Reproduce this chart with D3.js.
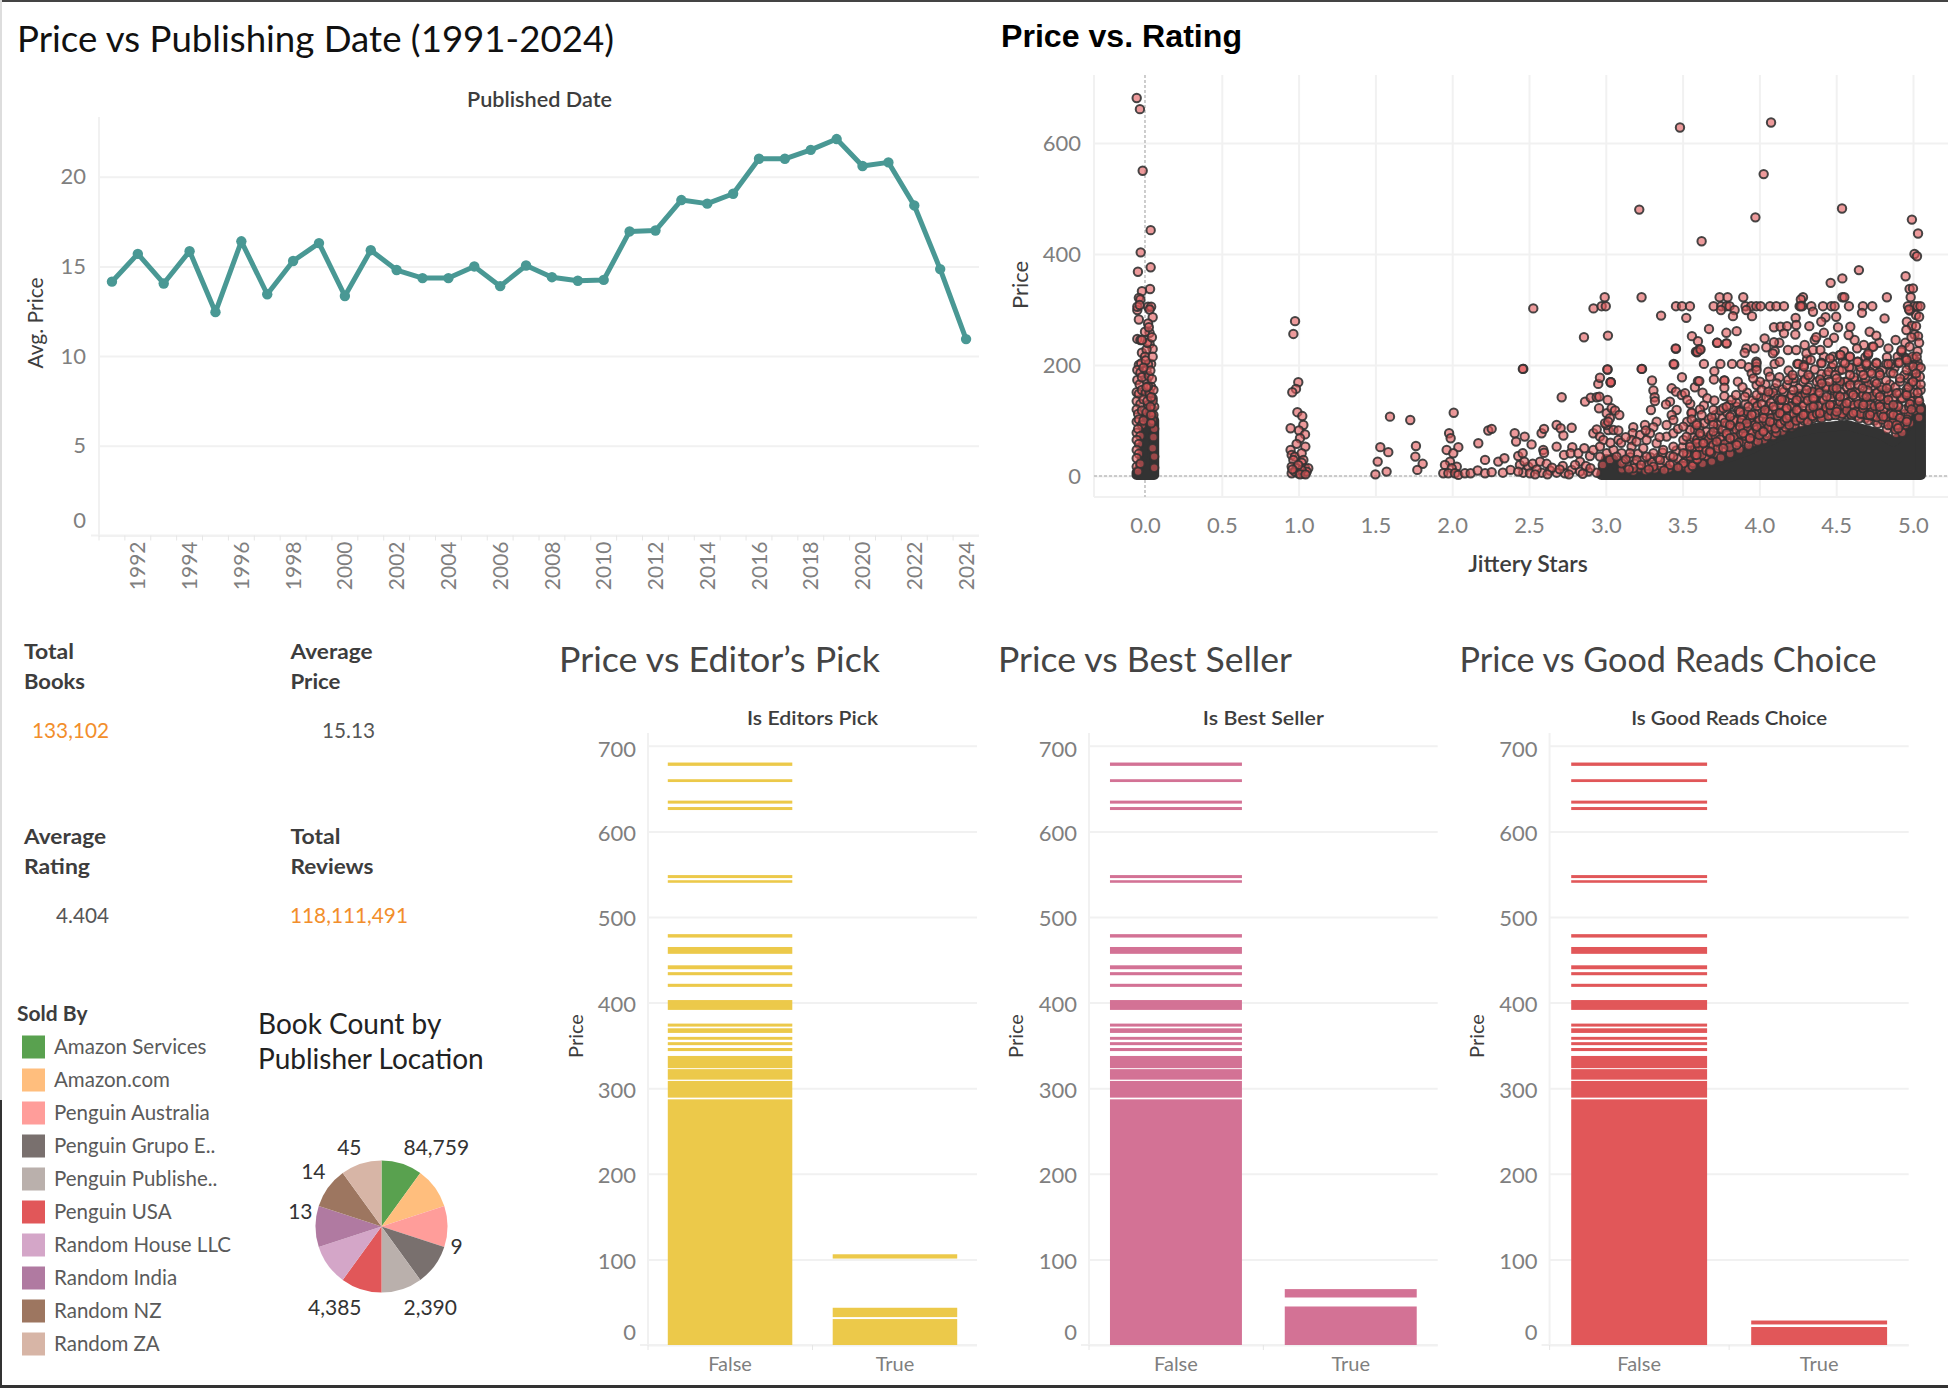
<!DOCTYPE html>
<html>
<head>
<meta charset="utf-8">
<title>Book prices dashboard</title>
<script src="https://d3js.org/d3.v7.min.js"></script>
<style>
  html, body { margin: 0; padding: 0; background: #fff; }
  svg { display: block; }
  text { font-family: Lato, "Open Sans", sans-serif; }
  .domain { display: none; }
</style>
</head>
<body>
<script>
// ---- data ----
var years = [1991, 1992, 1993, 1994, 1995, 1996, 1997, 1998, 1999, 2000, 2001, 2002, 2003, 2004, 2005, 2006, 2007,
  2008, 2009, 2010, 2011, 2012, 2013, 2014, 2015, 2016, 2017, 2018, 2019, 2020, 2021, 2022, 2023, 2024];
var avgPrice = [14.15, 15.7, 14.05, 15.85, 12.45, 16.4, 13.45, 15.3, 16.3, 13.35, 15.9, 14.8, 14.35, 14.35, 15.0, 13.9, 15.05,
  14.4, 14.2, 14.25, 16.95, 17.0, 18.7, 18.5, 19.05, 21.0, 21.0, 21.5, 22.1, 20.6, 20.8, 18.4, 14.85, 10.95];
var yearTicks = [1992, 1994, 1996, 1998, 2000, 2002, 2004, 2006, 2008, 2010, 2012, 2014, 2016, 2018, 2020, 2022, 2024];
var avgPriceTicks = [0, 5, 10, 15, 20];

var starTicks = [0, 0.5, 1, 1.5, 2, 2.5, 3, 3.5, 4, 4.5, 5];
var scatterPriceTicks = [0, 200, 400, 600];

// [stars, price] readings, the column of unrated books
var zeroStarBooks = [[-0.054, 681], [-0.033, 661], [-0.015, 550], [0.037, 443], [-0.028, 403], [0.037, 376], [-0.046, 368],
  [0.033, 337], [-0.02, 333], [-0.04, 321], [-0.03, 318], [-0.05, 299], [-0.05, 305], [-0.035, 308], [0.02, 305], [0.04, 305], [0.03, 300],
  [0.05, 286], [-0.04, 282], [0.02, 275], [0.03, 258], [0, 260], [-0.05, 247], [-0.03, 245], [0.03, 238], [0.05, 229], [-0.02, 222],
  [0.01, 228], [0, 215], [0.04, 202], [0.02, 201], [-0.04, 200], [-0.025, 203], [-0.05, 191], [-0.03, 186], [0.01, 190], [-0.05, 173], [-0.035, 165],
  [0.04, 161], [0.01, 172], [-0.02, 178], [0.025, 180], [-0.054, 151], [-0.04, 148], [-0.02, 155], [0.005, 150], [0.03, 145], [0.05, 140],
  [-0.054, 135], [-0.03, 130], [-0.01, 138], [0.02, 128], [0.045, 122], [-0.054, 120], [-0.045, 112], [-0.02, 118], [0.01, 115], [-0.054, 98],
  [-0.04, 102], [-0.02, 92], [-0.054, 78], [-0.045, 85], [-0.03, 72], [-0.054, 65], [-0.04, 58], [-0.054, 47], [-0.04, 40], [-0.054, 32],
  [-0.054, 17], [-0.03, 22], [-0.045, 8], [0.055, 110], [0.06, 125], [0.05, 135], [0.03, 150], [0.055, 155], [0.02, 162], [0.045, 175],
  [0.035, 190], [0.005, 208], [0.05, 215], [-0.01, 195], [0.015, 240], [0.045, 250], [-0.02, 245], [0.025, 268], [0.05, 100], [0.06, 85],
  [-0.01, 100], [0.04, 95], [0.055, 70], [0.05, 50], [0.06, 35], [0.06, 15], [0.015, 135], [0.04, 110], [0.035, 125], [0.01, 160], [0.04, 142]];
var oneStarBooks = [[0.977, 279], [0.966, 256], [0.998, 169], [0.983, 157], [0.959, 151], [0.992, 115], [1.024, 108], [1.031, 92],
  [0.948, 86], [1.003, 82], [1.042, 75], [1.009, 68], [0.987, 58], [1.044, 53], [0.948, 47], [0.955, 38], [0.976, 35], [1.02, 41],
  [1.031, 29], [0.966, 29], [1.02, 24], [0.955, 17], [0.987, 14], [1.042, 14], [1.063, 14], [0.955, 5], [0.998, 5], [1.031, 4],
  [1.053, 8], [0.976, 8], [1.02, 11], [0.998, 20], [0.96, 12], [1.01, 3], [1.045, 3]];
var lowStarBooks = [[1.595, 107], [1.727, 101], [1.532, 52], [1.584, 43], [1.764, 54], [1.76, 35], [1.515, 26], [1.573, 8], [1.5, 3],
  [1.808, 22], [1.773, 11], [2.01, 114], [1.98, 77], [1.99, 68], [2.04, 52], [1.964, 47], [2.007, 41], [1.986, 26], [1.953, 20],
  [2.03, 17], [1.997, 14], [1.942, 5], [1.975, 5], [2.018, 5], [2.04, 2], [2.083, 5], [2.12, 5], [2.17, 59], [2.235, 82], [2.257, 85],
  [2.214, 29], [2.166, 10], [2.214, 5], [2.257, 7], [2.33, 6], [2.3, 26], [2.34, 32], [2.38, 11], [2.407, 77], [2.416, 62], [2.472, 71],
  [2.517, 57], [2.463, 193], [2.43, 36], [2.459, 41], [2.441, 20], [2.463, 6], [2.496, 17], [2.524, 22], [2.506, 5], [2.572, 26],
  [2.615, 22], [2.582, 6], [2.637, 10], [2.582, 77], [2.598, 85], [2.593, 47], [2.598, 42], [2.68, 92], [2.706, 86], [2.724, 73],
  [2.778, 87], [2.68, 53], [2.782, 52], [2.728, 38], [2.771, 41], [2.821, 41], [2.86, 50], [2.713, 142], [2.68, 6], [2.734, 5],
  [2.778, 11], [2.832, 8], [2.832, 26], [2.897, 36], [2.919, 47], [2.919, 77], [2.941, 84], [2.886, 8], [2.941, 6],
  [2.43, 8], [2.55, 12], [2.65, 15], [2.72, 18], [2.8, 20], [2.87, 18], [2.47, 26], [2.54, 3], [2.62, 3], [2.7, 12], [2.76, 3], [2.85, 4], [2.9, 14]];
// around 3 stars up to the start of the packed mass
var midStarBooks = [[2.962, 71], [2.984, 65], [3.016, 83], [3.006, 92], [2.995, 95], [3.05, 83], [3.082, 82], [2.962, 53], [3.006, 41],
  [3.027, 29], [2.962, 35], [3.05, 47], [3.006, 113], [3.038, 122], [3.06, 118], [3.088, 110], [3.027, 104], [3.016, 98], [2.956, 122],
  [3.012, 137], [2.865, 134], [2.902, 141], [2.941, 142], [2.958, 143], [2.951, 166], [2.962, 177], [3.012, 192], [3.032, 169], [3.032, 169],
  [3.032, 169], [3.082, 65], [3.236, 193], [3.301, 172], [3.31, 154], [3.318, 142], [3.32, 135], [3.294, 119], [3.457, 229], [3.446, 201],
  [3.496, 178], [3.587, 224], [3.6, 171], [3.429, 158], [3.457, 152], [3.494, 146], [3.516, 149], [3.531, 137], [3.418, 134], [3.392, 129],
  [3.461, 119], [3.429, 110], [3.44, 101], [3.559, 113], [3.331, 98], [3.396, 92], [3.31, 88], [3.255, 92], [3.179, 88], [3.175, 77],
  [3.223, 74], [3.288, 77], [3.168, 65], [3.266, 65], [3.331, 59], [3.396, 71], [3.44, 77], [3.168, 53], [3.103, 41], [3.158, 41], [3.244, 50],
  [3.31, 41], [3.374, 47], [3.44, 53], [3.505, 65], [3.549, 83], [3.592, 95], [3.103, 23], [3.201, 29], [3.266, 35], [3.353, 29], [3.44, 35],
  [3.527, 41], [3.592, 59], [3.179, 14], [3.31, 17], [3.418, 20], [3.505, 23], [3.581, 38], [3.1, 60], [3.13, 30], [3.23, 20], [3.28, 12],
  [3.38, 10], [3.47, 15], [3.15, 12], [3.2, 62], [3.35, 70], [3.47, 85], [3.53, 98], [3.26, 82], [3.13, 70], [3.03, 60], [3.07, 35], [2.98, 20]];
var highStarBooks = [[3.483, 628], [4.076, 637], [4.028, 544], [3.218, 480], [3.974, 466], [4.538, 482], [3.624, 423], [4.993, 462],
  [5.033, 437], [5.01, 400], [5.026, 396], [4.648, 371], [4.952, 360], [4.464, 348], [4.54, 356], [4.978, 337], [5.0, 338],
  [2.993, 322], [3.233, 322], [3.741, 322], [3.793, 322], [3.895, 322], [4.284, 322], [4.27, 318], [4.54, 322], [4.553, 322], [4.83, 322], [4.985, 322],
  [2.528, 302], [2.92, 302], [2.973, 306], [3.0, 306], [3.457, 306], [3.496, 306], [3.548, 306], [3.702, 306], [3.752, 306], [3.785, 306], [3.806, 306],
  [3.91, 306], [3.947, 306], [3.98, 306], [4.008, 306], [4.069, 306], [4.11, 306], [4.16, 306], [4.262, 306], [4.28, 306], [4.27, 306], [4.338, 306],
  [4.414, 306], [4.468, 306], [4.49, 306], [4.583, 306], [4.674, 306], [4.735, 306], [4.967, 306], [5.01, 306], [5.03, 306], [5.048, 306],
  [3.36, 289], [3.524, 285], [3.75, 299], [3.839, 299], [3.828, 288], [3.952, 288], [3.915, 299], [4.236, 285], [4.349, 296], [4.431, 286], [4.403, 278],
  [4.5, 287], [4.668, 294], [4.815, 284], [4.974, 300], [5.04, 287], [3.672, 265], [4.095, 268], [4.138, 269], [4.18, 270], [4.24, 272], [4.325, 270],
  [4.512, 268], [4.592, 269], [4.993, 271], [4.957, 263], [2.858, 250], [3.014, 253], [3.561, 252], [3.6, 243], [3.785, 258], [3.852, 261], [3.724, 240],
  [3.785, 239], [4.034, 248], [4.095, 241], [4.16, 257], [4.234, 255], [4.37, 250], [4.486, 249], [4.581, 254], [4.718, 260], [4.761, 253], [4.887, 245],
  [5.033, 252], [3.611, 228], [3.611, 228], [3.594, 223], [3.455, 230], [3.915, 230], [3.904, 222], [3.969, 230], [4.045, 232], [4.088, 221], [4.186, 227],
  [4.24, 227], [4.295, 236], [4.306, 221], [4.349, 227], [4.397, 227], [4.447, 240], [4.479, 215], [4.523, 218], [4.588, 215], [4.636, 230], [4.735, 233],
  [4.707, 218], [4.924, 224], [4.978, 233], [2.46, 193], [3.01, 192], [3.233, 193], [3.442, 202], [3.639, 202], [3.746, 202], [3.822, 202], [3.882, 202],
  [3.98, 206], [3.98, 197], [4.099, 202], [4.132, 206], [4.247, 202], [4.288, 200], [4.403, 204], [4.479, 202], [4.544, 206], [4.642, 206], [4.696, 200],
  [4.761, 204], [4.826, 202], [4.859, 202], [4.902, 204], [4.957, 212], [4.996, 215], [5.03, 225], [5.04, 240], [4.99, 250], [5.02, 270],
  [3.596, 224], [3.617, 228], [3.726, 240], [3.787, 239], [3.707, 189], [3.704, 174], [3.609, 171], [3.772, 172], [3.772, 172], [3.772, 159], [3.772, 144],
  [3.707, 136], [3.639, 127], [3.613, 120], [3.559, 114], [3.559, 102], [3.624, 110], [3.689, 106], [3.7, 119], [3.765, 122], [3.787, 125], [3.819, 137],
  [3.848, 146], [3.906, 143], [3.809, 107], [3.874, 116], [3.928, 125], [3.982, 146], [3.982, 164], [4.004, 170], [3.95, 185], [3.982, 203], [3.982, 191],
  [3.96, 176], [4.015, 155], [4.058, 152], [4.112, 167], [4.058, 188], [4.069, 179], [4.188, 173], [4.216, 182], [4.221, 155], [4.297, 174], [4.253, 202],
  [4.29, 197], [4.334, 209], [4.405, 203], [4.46, 212], [4.529, 218], [4.557, 203], [4.59, 215], [4.638, 206], [4.698, 203], [4.763, 203], [4.839, 202],
  [4.911, 204], [4.709, 221], [4.742, 233], [4.926, 227], [4.319, 182], [4.394, 174], [4.455, 170], [4.503, 176], [4.59, 182], [4.677, 182], [4.731, 185],
  [4.785, 182], [4.872, 185], [4.915, 176], [4.959, 191], [5.002, 197], [5.045, 179], [4.959, 209], [5.024, 215], [4.308, 155], [4.405, 167], [4.503, 158],
  [4.59, 164], [4.672, 158], [4.763, 167], [4.829, 158], [4.894, 149], [4.959, 146], [4.904, 125], [4.872, 110], [4.915, 104], [4.134, 137], [4.145, 138],
  [4.091, 125], [4.036, 119], [4.177, 122], [4.243, 137], [4.351, 140], [4.438, 143], [4.525, 143], [4.611, 146], [4.698, 143], [4.785, 143], [4.839, 137],
  [4.026, 104], [3.95, 110], [3.885, 101], [4.134, 113], [4.243, 119], [4.351, 125], [4.46, 128], [4.568, 131], [4.677, 128], [4.785, 125], [4.872, 128],
  [3.917, 95], [3.809, 92], [3.7, 92], [3.591, 92], [3.505, 89], [3.526, 71], [3.613, 77], [3.7, 80], [3.787, 77], [3.874, 89], [3.548, 53], [3.635, 59],
  [3.722, 62], [3.809, 68], [3.895, 77], [3.982, 89], [4.069, 98], [4.177, 104], [4.286, 110], [4.394, 113], [4.503, 116], [4.611, 113], [4.72, 110],
  [4.807, 107], [3.505, 41], [3.591, 38], [3.678, 44], [3.765, 50], [3.852, 56], [3.939, 68], [4.026, 80], [4.839, 92], [4.894, 92], [4.904, 86], [4.959, 98],
  [4.97, 160], [5.0, 170], [5.03, 150], [5.05, 195], [5.02, 185], [4.98, 130], [5.04, 135], [4.99, 120]];
// the crowded rim above the packed mass, read as closely as the overlap allows
var crowdedBooks = [[3.105, 12], [3.12, 26], [3.14, 18], [3.16, 34], [3.18, 8], [3.19, 22], [3.21, 40], [3.22, 14], [3.24, 28], [3.26, 9], [3.27, 19], [3.29, 34],
  [3.3, 25], [3.32, 12], [3.34, 33], [3.36, 18], [3.37, 42], [3.39, 27], [3.41, 13], [3.42, 36], [3.44, 24], [3.46, 46], [3.47, 31], [3.49, 19], [3.5, 52],
  [3.52, 29], [3.53, 36], [3.55, 22], [3.56, 47], [3.58, 28], [3.6, 66], [3.61, 43], [3.63, 51], [3.64, 35], [3.66, 69], [3.67, 58], [3.69, 40], [3.7, 66],
  [3.72, 48], [3.73, 85], [3.75, 57], [3.76, 71], [3.78, 44], [3.79, 94], [3.81, 60], [3.82, 80], [3.84, 66], [3.85, 101], [3.87, 74], [3.88, 55], [3.9, 90],
  [3.91, 68], [3.93, 108], [3.94, 80], [3.96, 60], [3.97, 99], [3.99, 73], [4.0, 118], [4.02, 85], [4.03, 65], [4.05, 106], [4.06, 126], [4.08, 90], [4.09, 72],
  [4.11, 112], [4.12, 94], [4.14, 130], [4.15, 80], [4.17, 118], [4.18, 98], [4.2, 140], [4.21, 88], [4.23, 126], [4.24, 105], [4.26, 148], [4.27, 95], [4.29, 132],
  [4.3, 112], [4.32, 160], [4.33, 102], [4.35, 135], [4.36, 118], [4.38, 152], [4.39, 105], [4.41, 140], [4.42, 120], [4.44, 162], [4.45, 110], [4.47, 148],
  [4.48, 125], [4.5, 168], [4.51, 112], [4.53, 152], [4.54, 128], [4.56, 170], [4.57, 110], [4.59, 148], [4.6, 125], [4.62, 172], [4.63, 108], [4.65, 150],
  [4.66, 128], [4.68, 168], [4.69, 104], [4.71, 142], [4.72, 122], [4.74, 162], [4.75, 100], [4.77, 136], [4.78, 115], [4.8, 155], [4.81, 96], [4.83, 130],
  [4.84, 110], [4.86, 150], [4.87, 90], [4.89, 118], [4.9, 100], [4.92, 140], [4.93, 85], [4.95, 112], [4.96, 156], [4.98, 95], [4.99, 142], [5.01, 118],
  [5.02, 165], [5.04, 105], [5.05, 155], [5.0, 190], [5.03, 205],
  [3.51, 18], [3.54, 12], [3.57, 24], [3.6, 30], [3.63, 22], [3.66, 36], [3.69, 26], [3.72, 40], [3.75, 33], [3.78, 48], [3.81, 40], [3.84, 54], [3.87, 48], [3.9, 62],
  [3.93, 55], [3.96, 70], [3.99, 62], [4.02, 76], [4.05, 72], [4.08, 84], [4.11, 78], [4.14, 92], [4.17, 88], [4.2, 98], [4.23, 92], [4.26, 106], [4.29, 100],
  [4.32, 112], [4.35, 104], [4.38, 116], [4.41, 108], [4.44, 118], [4.47, 110], [4.5, 120], [4.53, 108], [4.56, 118], [4.59, 112], [4.62, 116], [4.65, 104],
  [4.68, 112], [4.71, 100], [4.74, 108], [4.77, 94], [4.8, 102], [4.83, 84], [4.86, 92], [4.89, 76], [4.92, 98], [4.95, 92], [4.97, 112],
  [3.92, 150], [3.97, 132], [4.01, 142], [4.04, 165], [4.07, 148], [4.1, 158], [4.13, 178], [4.16, 152], [4.19, 190], [4.22, 168], [4.25, 145], [4.28, 186],
  [4.31, 210], [4.33, 150], [4.36, 192], [4.39, 160], [4.42, 215], [4.44, 182], [4.47, 196], [4.49, 150], [4.52, 190], [4.55, 225], [4.57, 170], [4.6, 195],
  [4.63, 152], [4.66, 188], [4.69, 214], [4.71, 165], [4.74, 196], [4.77, 150], [4.8, 190], [4.83, 214], [4.85, 165], [4.88, 195], [4.91, 150], [4.94, 215],
  [4.97, 175], [3.86, 170], [3.89, 160], [3.93, 196], [4.1, 225], [4.13, 240], [4.36, 245], [4.42, 258], [4.62, 245], [4.68, 236], [4.78, 240], [4.84, 230],
  [4.9, 215], [4.95, 240], [5.01, 255], [4.96, 278], [5.02, 290], [4.98, 298], [3.63, 150], [3.66, 140], [3.55, 130], [3.58, 160], [3.85, 125]];
// the red speckled belt between the rim and the solid part
var speckledBooks = [[3.55, 35], [3.55, 60], [3.565, 18], [3.565, 70], [3.58, 48], [3.58, 84], [3.595, 30], [3.595, 66], [3.61, 52], [3.61, 88], [3.625, 38], [3.625, 72],
  [3.64, 60], [3.64, 95], [3.655, 46], [3.655, 80], [3.67, 66], [3.67, 102], [3.685, 42], [3.685, 74], [3.7, 56], [3.7, 98], [3.715, 72], [3.715, 110], [3.73, 50], [3.73, 92],
  [3.745, 66], [3.745, 118], [3.76, 84], [3.76, 104], [3.775, 58], [3.775, 96], [3.79, 74], [3.79, 114], [3.805, 52], [3.805, 128], [3.82, 90], [3.82, 110], [3.835, 70], [3.835, 100],
  [3.85, 84], [3.85, 132], [3.865, 60], [3.865, 118], [3.88, 96], [3.88, 76], [3.895, 110], [3.895, 86], [3.91, 72], [3.91, 130], [3.925, 88], [3.925, 116], [3.94, 104], [3.94, 68],
  [3.955, 78], [3.955, 136], [3.97, 112], [3.97, 92], [3.985, 84], [3.985, 126], [4.0, 100], [4.0, 74], [4.015, 130], [4.015, 90], [4.03, 112], [4.03, 82], [4.045, 142], [4.045, 98],
  [4.06, 88], [4.06, 116], [4.075, 132], [4.075, 104], [4.09, 96], [4.09, 150], [4.105, 120], [4.105, 86], [4.12, 108], [4.12, 140], [4.135, 94], [4.135, 128], [4.15, 156], [4.15, 112],
  [4.165, 100], [4.165, 136], [4.18, 122], [4.18, 164], [4.195, 108], [4.195, 92], [4.21, 146], [4.21, 126], [4.225, 112], [4.225, 176], [4.24, 134], [4.24, 100], [4.255, 118], [4.255, 158],
  [4.27, 104], [4.27, 142], [4.285, 170], [4.285, 126], [4.3, 112], [4.3, 148], [4.315, 136], [4.315, 98], [4.33, 122], [4.33, 178], [4.345, 108], [4.345, 152], [4.36, 140], [4.36, 128],
  [4.375, 112], [4.375, 170], [4.39, 150], [4.39, 126], [4.405, 104], [4.405, 184], [4.42, 136], [4.42, 116], [4.435, 160], [4.435, 124], [4.45, 108], [4.45, 188], [4.465, 140], [4.465, 118],
  [4.48, 158], [4.48, 128], [4.495, 110], [4.495, 182], [4.51, 146], [4.51, 122], [4.525, 170], [4.525, 134], [4.54, 112], [4.54, 192], [4.555, 142], [4.555, 126], [4.57, 160], [4.57, 118],
  [4.585, 134], [4.585, 196], [4.6, 110], [4.6, 150], [4.615, 178], [4.615, 128], [4.63, 142], [4.63, 116], [4.645, 164], [4.645, 130], [4.66, 112], [4.66, 196], [4.675, 146], [4.675, 122],
  [4.69, 176], [4.69, 132], [4.705, 110], [4.705, 154], [4.72, 188], [4.72, 128], [4.735, 144], [4.735, 116], [4.75, 170], [4.75, 126], [4.765, 106], [4.765, 150], [4.78, 186], [4.78, 130],
  [4.795, 112], [4.795, 160], [4.81, 138], [4.81, 120], [4.825, 172], [4.825, 106], [4.84, 128], [4.84, 148], [4.855, 112], [4.855, 186], [4.87, 96], [4.87, 140], [4.885, 160], [4.885, 84],
  [4.9, 128], [4.9, 110], [4.915, 92], [4.915, 170], [4.93, 140], [4.93, 78], [4.945, 120], [4.945, 182], [4.96, 102], [4.96, 150], [4.975, 125], [4.975, 200], [4.99, 135], [4.99, 168],
  [5.005, 150], [5.005, 212], [5.02, 128], [5.02, 178], [5.035, 198], [5.035, 140], [5.05, 165], [5.05, 120]];
// top edge of the places where the circles are packed solid
var packedStars = [2.97, 3.0, 3.05, 3.1, 3.3, 3.483, 3.7, 3.917, 4.134, 4.351, 4.568, 4.785, 4.872, 4.937, 5.002, 5.052];
var packedTopPrice = [3, 30, 30, 6, 8, 12, 25, 45, 72, 86, 92, 76, 62, 76, 120, 125];
var packedZeroStars = [-0.055, -0.035, -0.02, 0, 0.03, 0.06];
var packedZeroTopPrice = [6, 14, 30, 105, 120, 100];

var pickCategories = ['False', 'True'];
var barPriceTicks = [0, 100, 200, 300, 400, 500, 600, 700];
// [low, high] price bands, same False bar in all three panels
var falseBands = [[0, 287], [289, 308.5], [310, 322.3], [323.4, 337.7], [343.4, 347], [350.3, 353.8], [356.6, 360], [364.6, 370], [372, 375.5],
  [391.5, 403], [418.4, 422], [432, 435.6], [439, 443.6], [457, 465], [476, 480], [540, 543], [545.5, 549], [625, 628.5], [632.5, 636],
  [657.7, 661], [676.6, 680.5]];
var editorsTrueBands = [[0, 30.3], [32.6, 43.5], [101, 106]];
var bestSellerTrueBands = [[0, 45], [55.5, 65.3]];
var goodReadsTrueBands = [[0, 21], [24, 28.6]];

var soldBy = ['Amazon Services', 'Amazon.com', 'Penguin Australia', 'Penguin Grupo E..', 'Penguin Publishe..', 'Penguin USA',
  'Random House LLC', 'Random India', 'Random NZ', 'Random ZA'];
var soldByColors = ['#59a14f', '#ffbe7d', '#ff9d9a', '#79706e', '#bab0ac', '#e15759', '#d4a6c8', '#b07aa1', '#9d7660', '#d7b5a6'];
var sliceShare = [1, 1, 1, 1, 1, 1, 1, 1, 1, 1];
var sliceLabels = ['84,759', '', '9', '', '2,390', '4,385', '', '13', '14', '45'];

// ---- page ----
var width = 1948;
var height = 1388;
var gridColor = '#f1f1f1';
var tickColor = '#7f7f7f';
var labelColor = '#3d3d3d';

var svg = d3.select('body').append('svg')
  .attr('width', width)
  .attr('height', height)
  .attr('viewBox', '0 0 ' + width + ' ' + height);

function addText(x, y, str, size, color, opts) {
  opts = opts || {};
  var t = svg.append('text')
    .attr('x', x)
    .attr('y', y)
    .attr('font-size', size)
    .attr('fill', color)
    .attr('text-anchor', opts.anchor || 'start')
    .attr('font-weight', opts.weight || 400)
    .text(str);
  if (opts.family) { t.style('font-family', opts.family); }
  if (opts.rotate) { t.attr('transform', 'rotate(-90,' + x + ',' + y + ')'); }
  // the reference text is stretched in places
  if (opts.fit) { t.attr('textLength', opts.fit).attr('lengthAdjust', 'spacingAndGlyphs'); }
  return t;
}

// y axis whose long ticks are the gridlines
function drawValueAxis(yScale, ticks, left, right, labelRight, fontSize) {
  var g = svg.append('g')
    .attr('transform', 'translate(' + left + ',0)')
    .call(d3.axisLeft(yScale).tickValues(ticks).tickSize(left - right).tickPadding(left - labelRight));
  g.selectAll('line').attr('stroke', gridColor).attr('stroke-width', 2);
  g.selectAll('text')
    .attr('fill', tickColor)
    .attr('font-size', fontSize);
  return g;
}

function frameLines(left, top, bottom) {
  svg.append('line')
    .attr('x1', left).attr('x2', left)
    .attr('y1', top).attr('y2', bottom)
    .attr('stroke', gridColor).attr('stroke-width', 2);
}

// ---- price vs publishing date ----
function drawPriceByYear() {
  var left = 99, right = 979, top = 117, bottom = 535.5;
  addText(17, 52, 'Price vs Publishing Date (1991-2024)', 36, '#111', { fit: 597 });
  addText(539.5, 107, 'Published Date', 21, labelColor, { anchor: 'middle', weight: 600, fit: 145 });
  addText(43, 323, 'Avg. Price', 21, labelColor, { anchor: 'middle', rotate: true });

  var x = d3.scaleBand().domain(years).range([left, right]);
  var y = d3.scaleLinear().domain([0, 23.33]).range([bottom, top]);

  frameLines(left, top, bottom);
  var yAxis = drawValueAxis(y, avgPriceTicks, left, right, 86, 22);
  yAxis.selectAll('.tick').filter(function (d) { return d === 0; }).select('text').attr('dy', '-0.35em');

  var xAxis = svg.append('g')
    .attr('transform', 'translate(0,' + bottom + ')')
    .call(d3.axisBottom(x).tickValues(yearTicks).tickSize(0).tickPadding(0));
  xAxis.selectAll('text')
    .attr('fill', tickColor)
    .attr('font-size', 21)
    .attr('text-anchor', 'end')
    .attr('dy', '0.36em')
    .attr('transform', 'translate(0,5) rotate(-90)')
    .attr('x', -1)
    .attr('y', 0);
  svg.append('line')
    .attr('x1', left - 8).attr('x2', right)
    .attr('y1', bottom).attr('y2', bottom)
    .attr('stroke', gridColor).attr('stroke-width', 2);
  svg.append('g').selectAll('line')
    .data(years).enter()
    .append('line')
    .attr('x1', function (d) { return x(d); })
    .attr('x2', function (d) { return x(d); })
    .attr('y1', bottom)
    .attr('y2', bottom + 5)
    .attr('stroke', '#e6e6e6');

  var line = d3.line()
    .x(function (d, i) { return x(years[i]) + x.bandwidth() / 2; })
    .y(function (d) { return y(d); });
  svg.append('path')
    .datum(avgPrice)
    .attr('d', line)
    .attr('fill', 'none')
    .attr('stroke', '#499894')
    .attr('stroke-width', 5)
    .attr('stroke-linejoin', 'round');
  svg.append('g').selectAll('circle')
    .data(avgPrice).enter()
    .append('circle')
    .attr('cx', function (d, i) { return x(years[i]) + x.bandwidth() / 2; })
    .attr('cy', function (d) { return y(d); })
    .attr('r', 5.2)
    .attr('fill', '#499894');
}

// ---- price vs rating ----
function drawPriceByRating() {
  var left = 1094, right = 1948, top = 75, bottom = 497;
  addText(1001, 47, 'Price vs. Rating', 32, '#000', { weight: 700, family: '"Liberation Sans", Arial, sans-serif', fit: 241 });
  addText(1528, 572, 'Jittery Stars', 23, labelColor, { anchor: 'middle', weight: 600 });
  addText(1028, 285, 'Price', 22, labelColor, { anchor: 'middle', rotate: true });

  var x = d3.scaleLinear().domain([-0.332, 5.228]).range([left, right]);
  var y = d3.scaleLinear().domain([-37.8, 722.5]).range([bottom, top]);

  drawValueAxis(y, scatterPriceTicks, left, right, 1081, 22);
  var xAxis = svg.append('g')
    .attr('transform', 'translate(0,' + bottom + ')')
    .call(d3.axisBottom(x).tickValues(starTicks).tickSize(top - bottom).tickPadding(top - bottom + 20)
      .tickFormat(d3.format('.1f')));
  xAxis.selectAll('line').attr('stroke', gridColor).attr('stroke-width', 2)
    .filter(function (d) { return d === 0; }).attr('stroke', 'none');
  xAxis.selectAll('text')
    .attr('fill', tickColor)
    .attr('font-size', 22)
    .attr('y', 20)
    .attr('dy', '0.71em');
  frameLines(left, top, bottom);
  svg.append('line')
    .attr('x1', left).attr('x2', right)
    .attr('y1', bottom).attr('y2', bottom)
    .attr('stroke', gridColor).attr('stroke-width', 2);

  // zero reference lines
  svg.append('line')
    .attr('x1', x(0)).attr('x2', x(0))
    .attr('y1', top).attr('y2', bottom)
    .attr('stroke', '#bdbdbd').attr('stroke-width', 1.5).attr('stroke-dasharray', '3,2');
  svg.append('line')
    .attr('x1', left).attr('x2', right)
    .attr('y1', y(0)).attr('y2', y(0))
    .attr('stroke', '#bdbdbd').attr('stroke-width', 1.5).attr('stroke-dasharray', '3,2');

  var packed = d3.area()
    .x(function (d) { return x(d[0]); })
    .y0(y(2))
    .y1(function (d) { return y(d[1]); });
  [d3.zip(packedStars, packedTopPrice), d3.zip(packedZeroStars, packedZeroTopPrice)].forEach(function (rows) {
    svg.append('path')
      .datum(rows)
      .attr('d', packed)
      .attr('fill', '#333')
      .attr('stroke', '#333')
      .attr('stroke-width', 10)
      .attr('stroke-linejoin', 'round');
  });

  var books = crowdedBooks.concat(speckledBooks, zeroStarBooks, oneStarBooks, lowStarBooks, midStarBooks, highStarBooks);
  svg.append('g').selectAll('circle')
    .data(books).enter()
    .append('circle')
    .attr('cx', function (d) { return x(d[0]); })
    .attr('cy', function (d) { return y(d[1]); })
    .attr('r', 4.2)
    .attr('fill', '#e15759')
    .attr('fill-opacity', 0.6)
    .attr('stroke', '#333')
    .attr('stroke-opacity', 0.9)
    .attr('stroke-width', 2);
}

// ---- the three price / flag bars ----
function drawBands(panel) {
  var top = 733, bottom = 1345;
  addText(panel.titleX, 671.5, panel.title, 34, '#444', { fit: panel.titleWidth });
  addText((panel.left + panel.right) / 2, 724.5, panel.flag, 20, labelColor, { anchor: 'middle', weight: 600, fit: panel.flagWidth });
  addText(panel.priceX, 1036, 'Price', 20, labelColor, { anchor: 'middle', rotate: true });

  var x = d3.scaleBand().domain(pickCategories).range([panel.left, panel.right]).paddingInner(0.245).paddingOuter(0.12);
  var y = d3.scaleLinear().domain([0, 715]).range([bottom, top]);

  frameLines(panel.left, top, bottom);
  var yAxis = drawValueAxis(y, barPriceTicks, panel.left, panel.right, panel.left - 12, 22);
  yAxis.selectAll('text').attr('dy', '0.4em');
  yAxis.selectAll('.tick').filter(function (d) { return d === 0; }).select('text').attr('dy', '-0.25em');
  yAxis.selectAll('.tick').filter(function (d) { return d === 700; }).select('text').attr('dy', '0.5em');

  var xAxis = svg.append('g')
    .attr('transform', 'translate(0,' + bottom + ')')
    .call(d3.axisBottom(x).tickSize(0).tickPadding(12));
  xAxis.selectAll('text').attr('fill', tickColor).attr('font-size', 20);

  svg.append('line')
    .attr('x1', panel.left - 8).attr('x2', panel.right)
    .attr('y1', bottom).attr('y2', bottom)
    .attr('stroke', gridColor).attr('stroke-width', 2);
  svg.append('g').selectAll('line')
    .data([panel.left, (panel.left + panel.right) / 2]).enter()
    .append('line')
    .attr('x1', function (d) { return d; })
    .attr('x2', function (d) { return d; })
    .attr('y1', bottom)
    .attr('y2', bottom + 5)
    .attr('stroke', '#e6e6e6');

  var rows = falseBands.map(function (b) { return { cat: 'False', b: b }; })
    .concat(panel.trueBands.map(function (b) { return { cat: 'True', b: b }; }));
  svg.append('g').selectAll('rect')
    .data(rows).enter()
    .append('rect')
    .attr('x', function (d) { return x(d.cat); })
    .attr('width', x.bandwidth())
    .attr('y', function (d) { return y(d.b[1]); })
    .attr('height', function (d) { return y(d.b[0]) - y(d.b[1]); })
    .attr('fill', panel.color);
}

// ---- number cards ----
function drawCards() {
  var size = 21;
  addText(24, 658.5, 'Total', size, labelColor, { weight: 700, fit: 50 });
  addText(24, 688.5, 'Books', size, labelColor, { weight: 700, fit: 61 });
  addText(109, 738, '133,102', size, '#f28e2b', { anchor: 'end', fit: 77 });
  addText(290.5, 658.5, 'Average', size, labelColor, { weight: 700, fit: 82 });
  addText(290.5, 688.5, 'Price', size, labelColor, { weight: 700, fit: 50 });
  addText(375, 738, '15.13', size, '#555', { anchor: 'end', fit: 53 });
  addText(24, 844, 'Average', size, labelColor, { weight: 700, fit: 82 });
  addText(24, 874, 'Rating', size, labelColor, { weight: 700, fit: 66 });
  addText(109, 922.5, '4.404', size, '#555', { anchor: 'end', fit: 53 });
  addText(290.5, 844, 'Total', size, labelColor, { weight: 700, fit: 50 });
  addText(290.5, 874, 'Reviews', size, labelColor, { weight: 700, fit: 83 });
  addText(408, 922.5, '118,111,491', size, '#f28e2b', { anchor: 'end', fit: 118 });
}

// ---- sold by legend ----
function drawLegend() {
  addText(17, 1021, 'Sold By', 21, labelColor, { weight: 700 });
  var y = d3.scaleBand().domain(soldBy).range([1030.5, 1360.5]);
  var rows = svg.append('g').selectAll('g')
    .data(soldBy).enter()
    .append('g')
    .attr('transform', function (d) { return 'translate(0,' + y(d) + ')'; });
  rows.append('rect')
    .attr('x', 22)
    .attr('y', 5)
    .attr('width', 23)
    .attr('height', 23)
    .attr('fill', function (d, i) { return soldByColors[i]; });
  rows.append('text')
    .attr('x', 54)
    .attr('y', 23.5)
    .attr('font-size', 20.5)
    .attr('fill', '#5a5a5a')
    .text(function (d) { return d; });
}

// ---- publisher pie ----
function drawPie() {
  var cx = 381.5, cy = 1226.5, r = 66;
  addText(258, 1034, 'Book Count by', 28, '#222');
  addText(258, 1069, 'Publisher Location', 28, '#222');

  var slices = d3.pie().sort(null)(sliceShare);
  var arc = d3.arc().innerRadius(0).outerRadius(r);
  var g = svg.append('g').attr('transform', 'translate(' + cx + ',' + cy + ')');
  g.selectAll('path')
    .data(slices).enter()
    .append('path')
    .attr('d', arc)
    .attr('fill', function (d, i) { return soldByColors[i]; });

  // labels sit outside their slice, nudged to where the picture has them
  var labelArc = d3.arc().innerRadius(84).outerRadius(84);
  var nudgeX = [-4, 0, -15, 0, -4, 6, 0, 15, 12, 6];
  var nudgeY = [1, 0, 20, 0, 1, 1, 0, -15, -6, 1];
  g.selectAll('text')
    .data(slices).enter()
    .append('text')
    .attr('x', function (d, i) { return labelArc.centroid(d)[0] + nudgeX[i]; })
    .attr('y', function (d, i) { return labelArc.centroid(d)[1] + nudgeY[i]; })
    .attr('dy', '0.36em')
    .attr('font-size', 21)
    .attr('fill', '#333')
    .attr('text-anchor', function (d) { return (d.startAngle + d.endAngle) / 2 < Math.PI ? 'start' : 'end'; })
    .text(function (d, i) { return sliceLabels[i]; });
}

function drawPageEdges() {
  svg.append('line').attr('x1', 0).attr('x2', width).attr('y1', 1).attr('y2', 1).attr('stroke', '#444').attr('stroke-width', 2);
  svg.append('line').attr('x1', 1).attr('x2', 1).attr('y1', 0).attr('y2', 1100).attr('stroke', '#ddd').attr('stroke-width', 2);
  svg.append('line').attr('x1', 1).attr('x2', 1).attr('y1', 1100).attr('y2', height).attr('stroke', '#333').attr('stroke-width', 2);
  svg.append('line').attr('x1', 0).attr('x2', width).attr('y1', 1386.5).attr('y2', 1386.5).attr('stroke', '#333').attr('stroke-width', 3);
}

drawPriceByYear();
drawPriceByRating();
drawBands({ title: 'Price vs Editor’s Pick', flag: 'Is Editors Pick', titleX: 559, titleWidth: 321, flagWidth: 131, priceX: 583, left: 648, right: 977,
  color: '#ecc94a', trueBands: editorsTrueBands });
drawBands({ title: 'Price vs Best Seller', flag: 'Is Best Seller', titleX: 998, titleWidth: 294, flagWidth: 121, priceX: 1023, left: 1089, right: 1437.7,
  color: '#d37295', trueBands: bestSellerTrueBands });
drawBands({ title: 'Price vs Good Reads Choice', flag: 'Is Good Reads Choice', titleX: 1459.5, titleWidth: 417, flagWidth: 196, priceX: 1484, left: 1549.6, right: 1908.7,
  color: '#e15759', trueBands: goodReadsTrueBands });
drawCards();
drawLegend();
drawPie();
drawPageEdges();
</script>
</body>
</html>
